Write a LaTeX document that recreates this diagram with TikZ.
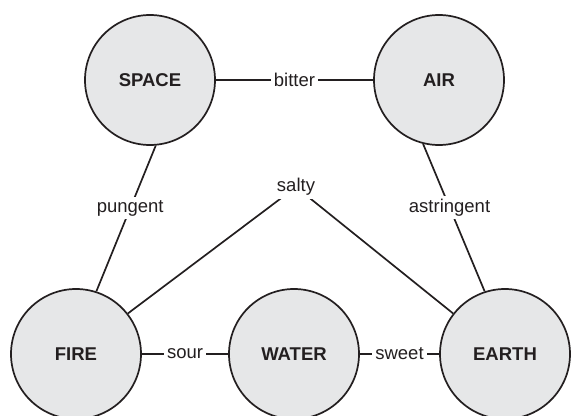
\documentclass[tikz,border=0pt]{standalone}
\usepackage{fontspec}
\setmainfont{Liberation Sans}
\definecolor{elemgray}{RGB}{230,231,232}
\definecolor{inkline}{RGB}{35,31,32}

\begin{document}
\begin{tikzpicture}[x=1pt,y=-1pt,
        element/.style={draw=inkline,circle,fill=elemgray,line width=1.7pt,minimum size=130pt,inner sep=0pt,
                        text=inkline,font=\fontsize{18.5}{21}\selectfont\bfseries},
        taste/.style={fill=white,inner sep=3pt,text=inkline,font=\fontsize{18.5}{21}\selectfont},
        link/.style={draw=inkline,line width=1.7pt}]
    \useasboundingbox (0,0) rectangle (572,415);

    % the five elements
    \node[element] (space) at (150,80)  {SPACE};
    \node[element] (air)   at (439,80)  {AIR};
    \node[element] (fire)  at (76,354)  {FIRE};
    \node[element] (water) at (294,354) {WATER};
    \node[element] (earth) at (505,354) {EARTH};
    \coordinate (apex) at (296,187);

    % tastes
    \draw[link] (space.east) -- node[taste] {bitter} (air.west);
    \draw[link] (space.-85) -- node[taste,pos=0.43] {pungent} (fire.72);
    \draw[link] (air.-104) -- node[taste,pos=0.43] {astringent} (earth.108);
    \draw[link] (fire.38) -- (apex) -- (earth.142);
    \node[taste] (salty) at (apex) {salty};
    \draw[link] (fire.east) -- node[taste] {sour} (water.west);
    \draw[link] (water.east) -- node[taste] {sweet} (earth.west);
\end{tikzpicture}
\end{document}
